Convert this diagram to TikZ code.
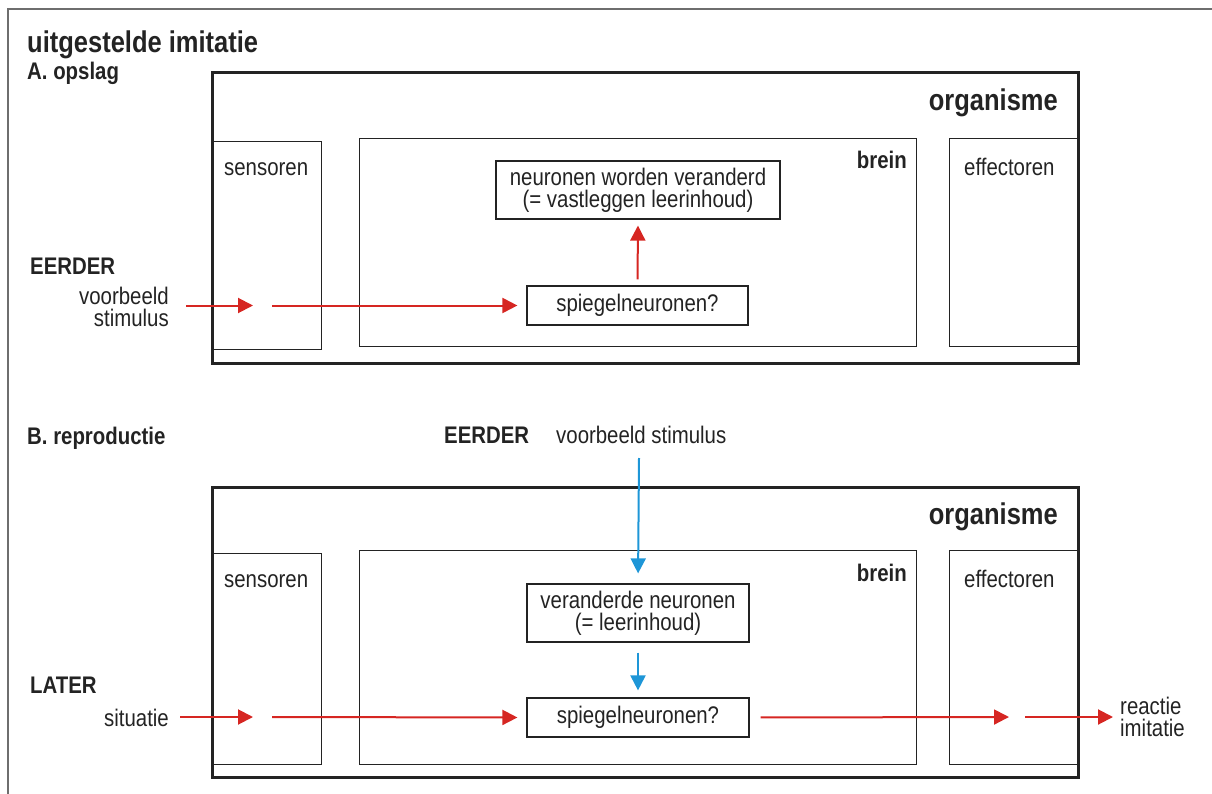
\documentclass[tikz,border=0pt]{standalone}
\usepackage{fontspec}
\setmainfont{Liberation Sans}[FakeStretch=0.85]
\usetikzlibrary{arrows.meta}
\definecolor{ared}{RGB}{214,38,34}
\definecolor{ablue}{RGB}{30,150,215}
\definecolor{frame}{RGB}{110,110,110}
\definecolor{ink}{RGB}{35,35,35}
\begin{document}
\begin{tikzpicture}[x=1pt,y=-1pt,
  every node/.style={inner sep=0pt, text=ink},
  txt/.style={font=\fontsize{24}{22}\selectfont},
  btxt/.style={font=\fontsize{24}{22}\selectfont\bfseries},
  bigtxt/.style={font=\fontsize{30}{30}\selectfont\bfseries},
  orgbox/.style={draw=ink, line width=2.6pt, anchor=north west},
  inbox/.style={draw=ink, line width=1.2pt, anchor=north west},
  labbox/.style={draw=ink, line width=1.2pt, align=center, font=\fontsize{24}{22}\selectfont},
  redarrow/.style={draw=ared, line width=2pt, -{Triangle[length=15pt,width=15pt]}},
  bluearrow/.style={draw=ablue, line width=2pt, -{Triangle[length=15pt,width=15pt]}}
]
\useasboundingbox (0,0) rectangle (1212,794);
% outer frame
\draw[frame, line width=2pt] (8,820) -- (8,9) -- (1230,9);

% titles
\node[bigtxt, anchor=west] (title) at (27,45) {uitgestelde imitatie};
\node[btxt, anchor=west] (secA) at (27,73) {A. opslag};
\node[btxt, anchor=west] (secB) at (27,438) {B. reproductie};

% ===== A =====
\node[orgbox, minimum width=866pt, minimum height=291pt] (orgA) at (211,71) {};
\node[inbox, minimum width=110pt, minimum height=208pt] (sensA) at (211,141) {};
\node[inbox, minimum width=557pt, minimum height=208pt] (breinA) at (359,138) {};
\node[inbox, minimum width=128pt, minimum height=208pt] (effA) at (949,138) {};
\node[bigtxt, anchor=east] (orgAl) at (1058,103) {organisme};
\node[btxt, anchor=east] (breinAl) at (907,160) {brein};
\node[txt, anchor=west] (sensAl) at (224,169) {sensoren};
\node[txt, anchor=west] (effAl) at (964,167) {effectoren};

\node[labbox, minimum width=284pt, minimum height=58pt] (nwA) at (638,190) {neuronen worden veranderd\\(= vastleggen leerinhoud)};
\node[labbox, minimum width=221pt, minimum height=39pt] (spA) at (637.5,305.5) {spiegelneuronen?};

\node[btxt, anchor=west] (eerderA) at (30,266) {EERDER};
\node[txt, anchor=east, align=right] (vbA) at (169,307) {voorbeeld\\stimulus};

\coordinate (a1s) at (186,305.5);
\coordinate (a1e) at (253,305.5);
\coordinate (a2s) at (272,305.5);
\draw[redarrow] (a1s) -- (a1e);
\draw[redarrow, shorten >=9pt] (a2s) -- (spA.west);
\draw[redarrow, shorten <=6pt, shorten >=6pt] (spA.north) -- (nwA.south);

% ===== B =====
\node[btxt, anchor=west] (eerderB) at (444,435) {EERDER};
\node[txt, anchor=west] (vbB) at (556,435) {voorbeeld stimulus};

\node[orgbox, minimum width=866pt, minimum height=290pt] (orgB) at (211,486) {};
\node[inbox, minimum width=110pt, minimum height=211pt] (sensB) at (211,553) {};
\node[inbox, minimum width=557pt, minimum height=214pt] (breinB) at (359,550) {};
\node[inbox, minimum width=128pt, minimum height=214pt] (effB) at (949,550) {};
\node[bigtxt, anchor=east] (orgBl) at (1058,517) {organisme};
\node[btxt, anchor=east] (breinBl) at (907,573) {brein};
\node[txt, anchor=west] (sensBl) at (224,581) {sensoren};
\node[txt, anchor=west] (effBl) at (964,579) {effectoren};

\node[labbox, minimum width=222pt, minimum height=58pt] (verB) at (638,613) {veranderde neuronen\\(= leerinhoud)};
\node[labbox, minimum width=222pt, minimum height=39pt] (spB) at (638,717.5) {spiegelneuronen?};

\node[btxt, anchor=west] (later) at (30,685) {LATER};
\node[txt, anchor=east] (sit) at (169,718) {situatie};
\node[txt, anchor=west, align=left] (react) at (1120,717) {reactie\\imitatie};

\coordinate (b0) at (639,458);
\draw[bluearrow, shorten >=10pt] (b0) -- (verB.north);
\draw[bluearrow, shorten <=10pt, shorten >=7pt] (verB.south) -- (spB.north);

\coordinate (c1s) at (180,717);
\coordinate (c1e) at (253,717);
\coordinate (c2s) at (272,717);
\coordinate (c3e) at (1009,717);
\coordinate (c4s) at (1025,717);
\coordinate (c4e) at (1113,717);
\draw[redarrow] (c1s) -- (c1e);
\draw[redarrow, shorten >=9pt] (c2s) -- (spB.west);
\draw[redarrow, shorten <=11pt] (spB.east) -- (c3e);
\draw[redarrow] (c4s) -- (c4e);
\end{tikzpicture}
\end{document}
